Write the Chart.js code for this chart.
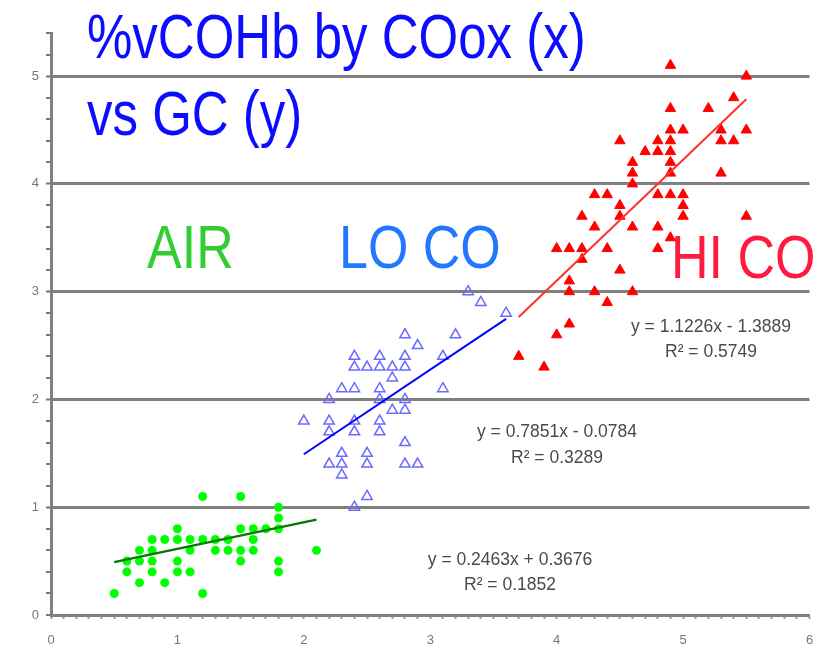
<!DOCTYPE html>
<html>
<head>
<meta charset="utf-8">
<script src="https://cdn.jsdelivr.net/npm/chart.js@4.4.0/dist/chart.umd.min.js"></script>
<style>
  html, body { margin: 0; padding: 0; background: #fff; }
</style>
</head>
<body>
<canvas id="myChart" width="817" height="646"></canvas>
<script>
// AIR group (green)
var airX = [1.2, 1.5, 1.8, 1.8, 1.0, 1.5, 1.6, 1.7, 1.8,
            0.8, 0.9, 1.0, 1.1, 1.2, 1.3, 1.4, 1.6,
            0.7, 0.8, 1.1, 1.3, 1.4, 1.5, 1.6, 2.1,
            0.6, 0.7, 0.8, 1.0, 1.5, 1.8,
            0.6, 0.8, 1.0, 1.1, 1.8,
            0.7, 0.9, 0.5, 1.2];
var airY = [1.1, 1.1, 1.0, 0.9, 0.8, 0.8, 0.8, 0.8, 0.8,
            0.7, 0.7, 0.7, 0.7, 0.7, 0.7, 0.7, 0.7,
            0.6, 0.6, 0.6, 0.6, 0.6, 0.6, 0.6, 0.6,
            0.5, 0.5, 0.5, 0.5, 0.5, 0.5,
            0.4, 0.4, 0.4, 0.4, 0.4,
            0.3, 0.3, 0.2, 0.2];

// LO CO group (blue, open triangles)
var loX = [3.3, 3.4, 3.6, 2.8, 3.2, 2.9, 2.4, 2.6, 2.8, 3.1,
           2.4, 2.5, 2.6, 2.7, 2.8, 2.7,
           2.3, 2.4, 2.6, 3.1,
           2.2, 2.6, 2.8, 2.7, 2.8,
           2.0, 2.2, 2.4, 2.6,
           2.2, 2.4, 2.6,
           2.8, 2.3, 2.5,
           2.2, 2.3, 2.5, 2.8, 2.9,
           2.3, 2.5, 2.4];
var loY = [3.0, 2.9, 2.8, 2.6, 2.6, 2.5, 2.4, 2.4, 2.4, 2.4,
           2.3, 2.3, 2.3, 2.3, 2.3, 2.2,
           2.1, 2.1, 2.1, 2.1,
           2.0, 2.0, 2.0, 1.9, 1.9,
           1.8, 1.8, 1.8, 1.8,
           1.7, 1.7, 1.7,
           1.6, 1.5, 1.5,
           1.4, 1.4, 1.4, 1.4, 1.4,
           1.3, 1.1, 1.0];

// HI CO group (red, filled triangles)
var hiX = [4.9, 5.5, 5.4, 4.9, 5.2, 4.9, 5.0, 5.3, 5.5,
           4.5, 4.8, 4.9, 5.3, 5.4,
           4.7, 4.8, 4.9,
           4.6, 4.9, 4.6, 4.9, 5.3, 4.6,
           4.3, 4.4, 4.8, 4.9, 5.0,
           4.5, 5.0,
           4.2, 4.5, 5.0, 5.5,
           4.3, 4.6, 4.8, 4.9,
           4.0, 4.1, 4.2, 4.4, 4.8, 4.2,
           4.5, 4.1, 4.1, 4.3, 4.6, 4.4,
           4.1, 4.0, 3.7, 3.9];
var hiY = [5.1, 5.0, 4.8, 4.7, 4.7, 4.5, 4.5, 4.5, 4.5,
           4.4, 4.4, 4.4, 4.4, 4.4,
           4.3, 4.3, 4.3,
           4.2, 4.2, 4.1, 4.1, 4.1, 4.0,
           3.9, 3.9, 3.9, 3.9, 3.9,
           3.8, 3.8,
           3.7, 3.7, 3.7, 3.7,
           3.6, 3.6, 3.6, 3.5,
           3.4, 3.4, 3.4, 3.4, 3.4, 3.3,
           3.2, 3.1, 3.0, 3.0, 3.0, 2.9,
           2.7, 2.6, 2.4, 2.3];

// linear trendlines as printed on the chart
var groupNames = ['AIR', 'LO CO', 'HI CO'];
var trendSlope = [0.2463, 0.7851, 1.1226];
var trendIntercept = [0.3676, -0.0784, -1.3889];
var trendR2 = ['0.1852', '0.3289', '0.5749'];

var titleLines = ['%vCOHb by COox (x)', 'vs GC (y)'];

function toPoints(xs, ys) {
    return xs.map(function(x, i) { return { x: x, y: ys[i] }; });
}

function trendPoints(xs, k) {
    var lo = Math.min.apply(null, xs);
    var hi = Math.max.apply(null, xs);
    return [lo, hi].map(function(x) {
        return { x: x, y: trendSlope[k] * x + trendIntercept[k] };
    });
}

function equationText(k) {
    var b = trendIntercept[k];
    return 'y = ' + trendSlope[k] + 'x ' + (b < 0 ? '- ' : '+ ') + Math.abs(b).toFixed(4);
}

function isWhole(v) {
    return Math.abs(v - Math.round(v)) < 1e-6;
}

var FONT = '"Liberation Sans", Arial, sans-serif';

// big text in the original is a bit taller than it is wide
function drawStretched(ctx, text, x, baseline, size, sy, color) {
    ctx.save();
    ctx.translate(x, baseline);
    ctx.scale(1, sy);
    ctx.font = size + 'px ' + FONT;
    ctx.fillStyle = color;
    ctx.textAlign = 'left';
    ctx.textBaseline = 'alphabetic';
    ctx.fillText(text, 0, 0);
    ctx.restore();
}

var textPlugin = {
    id: 'chartTexts',
    beforeDatasetsDraw: function(chart) {
        var ctx = chart.ctx;
        drawStretched(ctx, titleLines[0], 87, 58, 51, 1.23, '#0c0cff');
        drawStretched(ctx, titleLines[1], 87, 135, 51, 1.23, '#0c0cff');
        drawStretched(ctx, groupNames[0], 147, 268, 52, 1.19, '#33cc33');
        drawStretched(ctx, groupNames[1], 339, 268, 52, 1.19, '#2277ff');
        drawStretched(ctx, groupNames[2], 671, 278, 52, 1.19, '#ff1a40');
    },
    afterDatasetsDraw: function(chart) {
        var ctx = chart.ctx;
        var pos = [[510, 565, 590], [557, 437, 463], [711, 332, 357]];
        ctx.save();
        ctx.font = '17.5px ' + FONT;
        ctx.fillStyle = '#4a4a4a';
        ctx.textAlign = 'center';
        ctx.textBaseline = 'alphabetic';
        for (var k = 0; k < 3; k++) {
            ctx.fillText(equationText(k), pos[k][0], pos[k][1]);
            ctx.fillText('R\u00b2 = ' + trendR2[k], pos[k][0], pos[k][2]);
        }
        ctx.restore();
    }
};

var ctx = document.getElementById('myChart').getContext('2d');
var chart = new Chart(ctx, {
    type: 'scatter',
    data: {
        datasets: [
            {
                label: 'AIR trend', type: 'line', order: 0,
                data: trendPoints(airX, 0),
                borderColor: '#007a00', borderWidth: 2.5, pointRadius: 0, fill: false
            },
            {
                label: 'LO CO trend', type: 'line', order: 0,
                data: trendPoints(loX, 1),
                borderColor: '#0000ff', borderWidth: 2, pointRadius: 0, fill: false
            },
            {
                label: 'HI CO trend', type: 'line', order: 0,
                data: trendPoints(hiX, 2),
                borderColor: '#ff3030', borderWidth: 2, pointRadius: 0, fill: false
            },
            {
                label: 'AIR', order: 1,
                data: toPoints(airX, airY),
                pointStyle: 'circle', pointRadius: 4.5,
                backgroundColor: '#00ff00', borderColor: '#00ff00', borderWidth: 0
            },
            {
                label: 'LO CO', order: 1,
                data: toPoints(loX, loY),
                pointStyle: 'triangle', pointRadius: 6,
                backgroundColor: 'rgba(255,255,255,0)', borderColor: '#6a6aff', borderWidth: 1.5
            },
            {
                label: 'HI CO', order: 1,
                data: toPoints(hiX, hiY),
                pointStyle: 'triangle', pointRadius: 6,
                backgroundColor: '#ff0000', borderColor: '#ff0000', borderWidth: 1
            }
        ]
    },
    options: {
        responsive: false,
        animation: false,
        layout: { padding: { top: 33, right: 1, left: 0, bottom: 0 } },
        plugins: {
            legend: { display: false },
            tooltip: { enabled: false }
        },
        scales: {
            x: {
                type: 'linear', min: 0, max: 6,
                afterFit: function(s) { s.height = 31; s.paddingLeft = 0; s.paddingRight = 0; },
                border: { color: '#808080', width: 3 },
                grid: { drawOnChartArea: false, tickLength: 4, tickWidth: 2, tickColor: '#9a9a9a' },
                ticks: {
                    stepSize: 0.1, autoSkip: false, maxRotation: 0, padding: 14,
                    color: '#777', font: { family: FONT, size: 13 },
                    callback: function(v) { return isWhole(v) ? String(Math.round(v)) : ''; }
                }
            },
            y: {
                type: 'linear', min: 0, max: 5.4,
                afterFit: function(s) { s.width = 51; s.paddingTop = 0; s.paddingBottom = 0; },
                border: { color: '#808080', width: 3 },
                grid: {
                    color: '#808080',
                    lineWidth: function(c) { return c.tick && c.tick.value > 0 && isWhole(c.tick.value) ? 3 : 0; },
                    tickLength: 5, tickWidth: 2, tickColor: '#777'
                },
                ticks: {
                    stepSize: 0.2, autoSkip: false, padding: 7,
                    color: '#777', font: { family: FONT, size: 13 },
                    callback: function(v) { return isWhole(v) ? String(Math.round(v)) : ''; }
                }
            }
        }
    },
    plugins: [textPlugin]
});
</script>
</body>
</html>
